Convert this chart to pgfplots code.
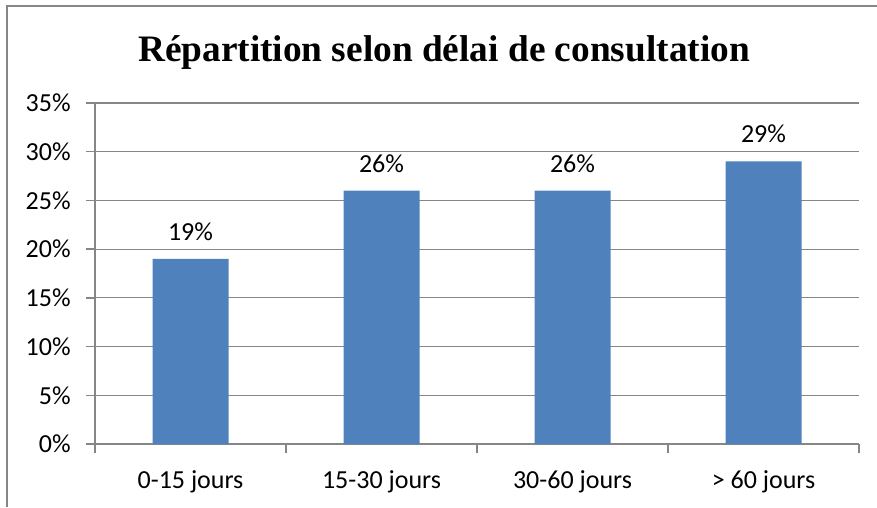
\documentclass[border=0pt]{standalone}
\usepackage{fontspec}
\setmainfont{Carlito}
\newfontfamily\titlefont{Liberation Serif}
\usepackage{pgfplots}
\pgfplotsset{compat=1.18}
\definecolor{barblue}{HTML}{4F81BD}
\definecolor{axgray}{HTML}{868686}
\begin{document}
\begin{tikzpicture}[x=0.75pt,y=0.75pt]
\useasboundingbox (0,0) rectangle (877,507);
\draw[axgray,line width=1.3pt] (7,0) -- (7,501) -- (877,501);
\node[font=\titlefont\bfseries\fontsize{28}{32}\selectfont] at (444,454) {Répartition selon délai de consultation};
\coordinate (A) at (95,63);
\begin{axis}[
  at={(A)}, anchor=south west,
  scale only axis, width=573pt, height=255.75pt,
  xmin=0.5, xmax=4.5, ymin=0, ymax=35,
  xtick={1,2,3,4},
  xticklabels={0-15 jours,15-30 jours,30-60 jours,> 60 jours},
  minor xtick={0.5,1.5,2.5,3.5,4.5},
  ytick={0,5,...,35},
  yticklabel={\pgfmathprintnumber{\tick}\%},
  /pgf/number format/assume math mode=true,
  tick align=outside,
  major tick length=6.75pt,
  minor tick length=6.75pt,
  x tick style={draw=none},
  minor x tick style={draw=axgray, line width=1pt},
  y tick style={draw=axgray, line width=1pt},
  axis x line*=bottom, axis y line*=left,
  axis line style={draw=axgray, line width=1pt, -},
  ymajorgrids, grid style={axgray, line width=0.8pt},
  ticklabel style={font=\fontsize{19.5}{22}\selectfont, text=black},
  xticklabel style={yshift=-9.5pt},
  yticklabel style={xshift=-8pt},
  ybar, bar width=57pt,
  nodes near coords={\pgfmathprintnumber{\pgfplotspointmeta}\%},
  nodes near coords style={font=\fontsize{19.5}{22}\selectfont, anchor=south, inner sep=0pt, yshift=13.5pt},
  clip=false,
]
\addplot[fill=barblue, draw=none] coordinates {(1,19) (2,26) (3,26) (4,29)};
\end{axis}
\end{tikzpicture}
\end{document}
